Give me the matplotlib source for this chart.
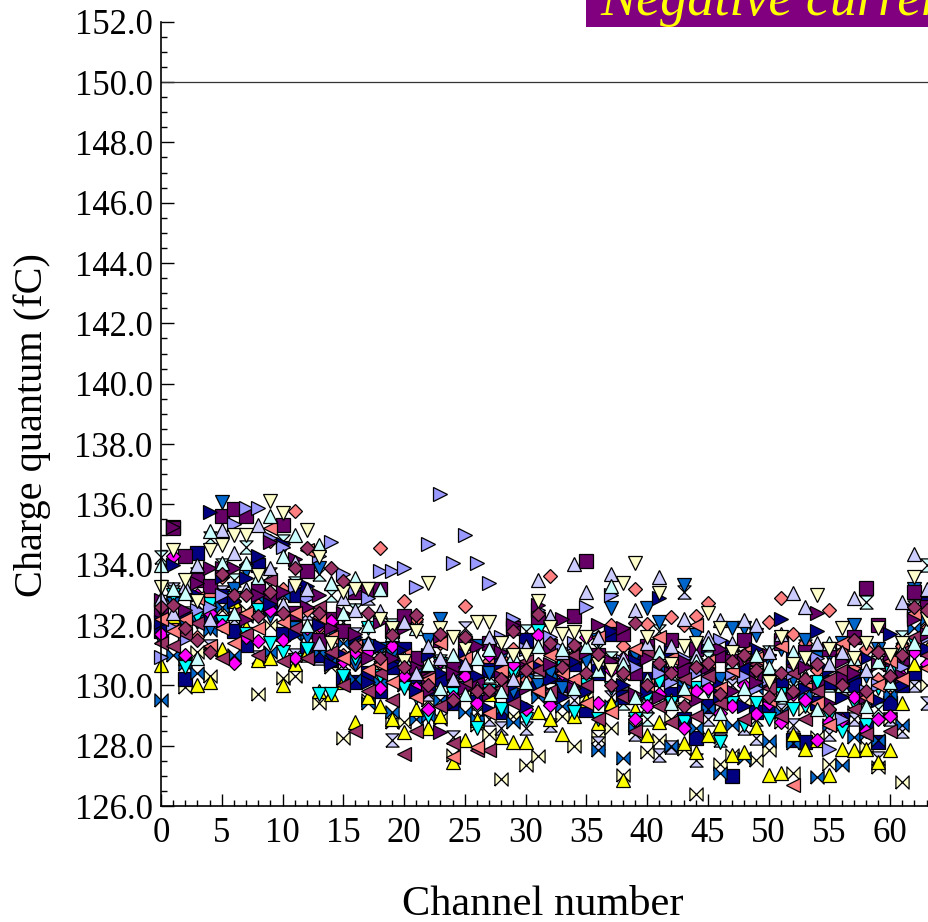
import matplotlib
matplotlib.use('Agg')
from matplotlib import pyplot as plt
from matplotlib.ticker import MultipleLocator, FormatStrFormatter

plt.rcParams['font.family'] = ['Liberation Serif', 'DejaVu Serif']

## values per channel (0..63)
navy_sq = [131.8,135.25,130.2,134.4,132.2,132.95,131.8,131.35,134.0,132.55,131.7,133.0,131.2,131.0,130.85,130.2,
           130.1,130.4,129.8,130.6,131.2,130.3,129.9,130.2,129.4,130.6,129.7,130.5,129.1,129.6,131.5,129.9,
           130.3,130.0,130.7,129.18,130.4,131.7,129.6,130.9,130.2,130.5,129.7,128.9,128.25,129.3,129.6,127.0,
           130.6,129.1,129.35,130.0,128.2,128.13,129.4,130.1,128.9,130.0,128.6,128.11,129.4,130.0,130.4,132.7]
purple_sq = [132.5,135.2,134.3,133.5,133.3,135.6,135.83,135.6,133.2,132.9,135.3,132.4,133.8,131.5,132.2,131.8,
             133.1,133.2,133.2,131.8,132.3,130.9,130.2,131.5,130.6,131.4,130.0,131.4,130.4,131.9,130.6,132.2,
             131.3,130.6,132.3,134.13,131.0,130.7,131.7,130.4,131.3,130.2,131.5,130.5,131.2,130.4,131.0,130.8,
             131.5,130.4,130.1,131.4,130.6,131.1,130.0,131.2,130.2,131.6,133.24,132.0,130.7,130.9,133.1,132.6]
salmon_dia = [132.4,132.1,133.1,131.6,133.0,133.6,132.8,134.0,132.7,134.8,133.2,135.78,132.5,131.9,130.9,131.0,
              130.7,131.4,134.55,131.9,132.8,132.2,131.1,131.4,130.4,132.63,130.1,130.8,130.9,131.2,130.2,130.7,
              133.64,130.5,131.0,131.1,131.6,132.0,131.3,133.2,132.03,131.0,132.25,132.0,132.3,132.72,131.1,130.4,
              130.9,130.0,132.11,132.9,131.7,131.4,130.5,132.5,131.1,130.6,131.2,130.2,129.6,131.3,133.1,131.9]
mauve_dia = [132.6,132.66,131.9,131.5,131.1,133.7,133.0,133.0,132.3,133.1,132.4,133.9,134.55,132.4,133.9,133.45,
             131.3,132.4,130.9,131.67,130.6,132.33,130.0,131.7,129.5,131.6,129.8,129.85,130.2,131.8,130.5,132.37,
             131.4,130.62,131.34,130.4,131.05,130.0,130.4,132.05,130.0,130.73,130.4,129.3,130.6,130.73,129.7,130.8,
             131.0,130.5,129.6,130.4,129.8,130.2,130.7,129.2,130.0,131.5,129.8,131.1,130.3,131.0,132.6,132.5]
magenta_dia = [131.7,134.3,131.0,133.0,132.4,132.0,130.73,131.6,131.47,132.5,131.5,130.9,131.9,132.0,132.14,130.8,
               131.1,131.1,129.9,131.3,130.3,129.9,129.2,130.8,129.6,130.3,129.4,131.0,129.9,130.7,129.2,131.68,
               129.35,130.4,130.1,131.6,129.4,130.5,130.9,128.9,129.3,129.7,130.5,128.6,129.8,129.9,129.07,129.3,
               130.0,129.05,129.4,128.8,129.7,129.5,128.2,128.8,128.85,129.6,128.5,128.9,129.0,130.3,131.1,130.7]
peri_up = [132.9,132.4,133.3,134.0,132.2,135.15,134.4,133.2,135.3,133.9,132.7,134.1,133.2,131.4,133.4,132.9,
           132.5,131.4,132.45,131.9,132.1,130.4,131.3,130.9,130.2,130.7,129.9,131.6,130.9,130.2,131.3,133.5,
           132.3,131.1,134.02,133.1,131.6,133.7,130.9,132.5,131.4,133.6,131.3,132.2,131.0,131.6,132.17,131.4,
           132.17,132.0,131.1,131.7,133.07,132.6,131.4,130.7,131.1,132.9,130.5,131.2,130.5,132.77,134.35,133.2]
palecyan_up = [134.0,133.2,133.05,130.9,135.1,134.05,132.4,134.05,133.6,135.6,134.3,135.0,132.0,134.65,133.4,132.4,
               133.55,132.0,133.2,131.7,130.9,131.9,130.7,129.9,131.0,129.7,130.9,131.2,129.8,131.0,130.1,131.3,
               129.7,131.2,129.9,131.3,130.5,133.3,130.7,129.6,130.2,131.1,129.4,129.9,130.8,131.4,129.07,130.8,
               129.9,131.0,130.6,129.7,131.1,130.3,129.2,131.4,130.0,130.9,129.3,130.8,130.1,131.2,131.4,131.9]
yellow_up = [130.67,132.3,130.9,130.0,130.1,131.2,132.8,131.95,130.84,130.9,130.0,130.7,131.1,129.8,129.7,130.1,
             128.8,129.6,129.3,128.9,128.46,129.2,128.6,129.0,127.47,128.2,128.85,129.7,128.3,128.13,128.13,129.1,
             128.9,128.4,129.0,129.5,128.74,129.4,126.86,129.2,128.35,128.8,129.5,128.1,127.8,128.35,128.7,127.7,
             127.8,128.63,127.03,127.08,128.4,127.9,128.2,127.03,127.9,127.86,127.9,127.47,127.86,129.4,130.7,131.2]
pale_down = [133.27,134.5,133.5,132.8,134.5,134.65,135.0,135.0,133.65,136.1,135.7,133.3,135.15,134.25,131.4,133.1,
             133.2,133.2,132.2,131.9,130.8,131.8,133.38,131.9,131.6,131.2,132.1,132.1,131.4,131.0,131.0,132.8,
             131.95,131.7,131.78,131.6,130.7,130.5,133.38,134.07,131.6,133.05,130.7,131.3,131.4,132.39,131.9,131.1,
             130.9,130.4,130.1,131.6,130.7,130.9,133.0,131.2,131.9,130.9,131.4,131.9,131.0,131.4,133.6,132.2]
blue_down = [131.5,132.7,132.0,132.1,131.9,136.07,133.2,133.8,133.1,132.3,134.55,131.9,131.6,133.9,131.8,131.7,
             130.7,131.3,131.2,131.0,132.1,130.4,131.5,132.2,130.5,129.9,131.3,130.4,130.9,129.8,131.0,130.0,
             130.4,129.9,131.2,130.8,131.5,132.55,131.7,131.0,132.55,132.1,130.8,133.33,131.67,130.6,130.2,131.9,
             131.9,131.67,130.8,131.2,130.2,131.5,130.9,131.0,131.4,132.0,130.3,131.2,130.1,130.6,133.2,132.4]
cyan_down = [132.5,133.0,130.6,132.3,132.7,132.1,132.9,131.7,132.5,131.4,131.1,130.85,131.2,129.7,129.7,130.3,
             130.9,131.9,130.3,131.4,129.9,129.6,129.0,130.7,129.7,130.4,128.6,129.8,129.2,130.4,128.9,131.8,
             129.68,130.6,129.1,130.0,128.9,129.9,130.4,128.9,129.6,130.1,129.4,128.8,129.9,129.8,128.13,129.4,
             128.7,129.4,128.9,129.7,129.2,129.3,130.1,129.0,128.5,129.4,128.7,129.9,130.4,130.9,131.4,131.0]
purple_right = [132.83,135.25,132.5,133.4,133.9,133.9,133.9,132.2,133.0,134.75,133.1,134.2,132.6,133.0,131.9,132.4,
                131.7,130.9,132.1,130.9,131.9,130.6,129.8,128.46,130.4,129.9,131.3,129.7,131.1,132.0,129.9,132.65,
                130.7,132.2,129.9,131.1,132.0,130.8,131.9,129.7,130.9,129.6,130.4,130.8,129.5,130.6,131.2,129.8,
                130.8,130.1,131.0,131.5,129.7,130.6,132.4,129.4,130.8,130.4,129.6,130.7,131.0,130.3,132.2,131.7]
navy_right = [132.1,134.0,132.4,133.0,135.75,133.6,132.8,133.55,134.3,132.7,134.7,131.7,133.3,132.0,130.7,131.0,
              131.6,130.1,131.3,130.7,131.1,129.8,131.0,130.4,129.4,131.0,130.3,129.2,130.7,130.0,129.3,130.6,
              130.2,129.6,130.8,129.8,130.6,131.8,130.0,130.8,129.8,132.9,131.1,129.8,130.4,131.3,130.0,131.3,
              129.3,131.2,130.3,132.19,130.9,129.9,131.8,130.5,129.6,130.3,130.9,129.5,131.7,130.0,132.5,131.2]
peri_right = [130.95,131.9,131.55,132.5,132.6,133.0,135.35,135.87,135.87,134.9,134.6,133.3,132.9,134.3,134.75,133.7,
              133.2,132.9,133.8,133.8,133.9,133.27,134.68,136.35,134.07,135.0,134.07,133.38,131.6,132.2,131.2,132.5,
              131.6,131.2,131.4,132.6,130.9,133.0,130.8,130.6,131.2,130.4,130.1,130.9,130.4,130.2,131.5,130.4,
              130.3,129.9,130.2,129.6,130.4,130.9,130.9,127.9,128.9,130.4,129.8,130.0,130.9,130.6,132.3,131.6]
salmon_left = [132.2,131.8,132.2,132.9,131.3,131.9,131.4,132.4,131.9,135.2,132.1,132.4,134.5,132.28,131.6,130.9,
               131.3,130.5,130.7,130.1,131.0,129.6,130.2,131.4,127.63,130.9,127.97,129.07,130.5,130.1,130.6,129.8,
               131.0,130.4,130.2,129.4,131.6,129.1,130.4,131.2,130.0,131.6,130.9,129.7,132.0,130.8,129.9,130.5,
               131.1,130.9,129.5,131.3,126.7,130.1,129.4,128.7,131.4,130.8,129.6,130.0,130.8,130.2,132.4,130.56]
mauve_left = [131.4,131.3,131.7,132.05,131.2,130.9,132.4,131.7,131.0,133.5,130.8,131.9,130.9,132.6,131.1,130.0,
              128.5,129.8,130.4,129.5,127.72,128.5,130.3,129.3,128.1,130.0,127.85,127.85,129.9,129.4,130.8,130.5,
              129.8,130.9,131.0,130.0,128.9,130.7,129.6,128.5,131.1,129.3,128.8,130.2,129.0,130.3,129.4,130.5,
              128.9,130.7,129.9,129.0,130.4,128.9,129.8,130.2,130.5,129.2,128.4,130.7,128.5,131.1,131.6,131.0]
pale_bow = [132.1,131.9,129.95,131.1,130.3,132.5,131.8,132.5,129.7,132.0,130.25,130.3,131.1,129.4,130.6,128.24,
            130.1,129.5,130.5,128.8,128.8,130.2,129.5,128.9,127.7,129.7,128.7,128.4,126.88,129.0,127.36,127.66,
            129.8,129.0,128.0,129.6,128.3,128.6,127.03,128.7,127.8,128.2,128.9,127.9,126.39,128.3,127.4,127.7,
            129.4,127.52,127.86,128.8,127.1,129.2,128.3,127.4,128.7,129.1,128.0,127.3,128.9,126.8,130.3,130.0]
blue_bow = [129.5,131.0,130.7,130.4,131.85,132.6,131.0,132.3,132.9,131.1,133.0,131.67,131.7,131.1,130.8,131.4,
            130.2,129.4,130.1,129.1,130.0,128.9,129.0,129.5,130.4,129.1,128.9,129.7,129.2,128.8,130.4,129.6,
            130.3,129.3,130.0,130.9,127.86,129.3,127.6,128.6,129.7,130.6,128.0,130.0,128.6,129.2,127.08,128.7,
            127.58,129.9,128.17,129.1,128.1,129.7,126.97,128.7,127.36,128.3,128.4,128.2,129.7,128.7,131.9,132.2]
peri_hour = [131.6,133.2,130.2,132.7,131.3,133.1,132.2,131.6,130.95,133.7,132.8,131.0,132.4,130.9,132.0,130.7,
             131.7,132.9,130.9,128.2,131.0,130.6,129.7,130.2,128.3,131.9,129.4,128.9,128.6,130.5,128.57,130.2,
             128.7,129.9,129.5,131.0,128.1,129.6,130.1,128.4,129.3,127.7,127.97,133.1,127.52,128.9,128.2,130.0,
             128.6,128.24,130.3,129.2,128.7,130.8,129.8,128.4,129.9,128.9,129.5,127.6,128.9,128.5,130.0,129.4]
palecyan_hour = [134.26,133.1,132.4,133.7,134.9,134.0,133.5,134.6,132.6,133.3,134.8,133.4,131.0,133.7,133.0,132.1,
                 132.5,132.2,131.0,132.0,130.4,131.9,130.2,130.8,130.0,130.6,129.1,130.3,131.0,130.2,131.8,130.1,
                 131.2,130.0,130.8,129.6,131.2,130.9,129.4,130.6,128.9,131.8,130.4,129.2,131.1,130.9,129.6,130.7,
                 130.2,128.9,131.1,129.6,129.9,131.3,130.3,130.0,131.0,130.2,132.77,129.2,129.7,131.6,132.6,134.0]

x_ticks = [0, 5, 10, 15, 20, 25, 30, 35, 40, 45, 50, 55, 60]
title_text = 'Negative current'
ref_level = 150.0

bow = [(-1, -1), (1, 1), (1, -1), (-1, 1), (-1, -1)]
hour = [(-1, -1), (1, -1), (-1, 1), (1, 1), (-1, -1)]

## draw order, bottom first
series = [
    (pale_bow, bow, '#ffffcc', 9.5),
    (peri_hour, hour, '#ccccff', 9.5),
    (palecyan_hour, hour, '#ccffff', 9.5),
    (salmon_dia, 'D', '#ff8080', 7.2),
    (navy_sq, 's', '#000080', 10),
    (blue_bow, bow, '#0066cc', 9.5),
    (yellow_up, '^', '#ffff00', 10),
    (blue_down, 'v', '#0066cc', 10),
    (purple_sq, 's', '#660066', 10),
    (cyan_down, 'v', '#00ffff', 10),
    (magenta_dia, 'D', '#ff00ff', 7.2),
    (navy_right, '>', '#000080', 10),
    (peri_right, '>', '#9999ff', 10),
    (mauve_left, '<', '#993366', 10),
    (purple_right, '>', '#660066', 10),
    (salmon_left, '<', '#ff8080', 10),
    (peri_up, '^', '#ccccff', 10),
    (palecyan_up, '^', '#ccffff', 10),
    (pale_down, 'v', '#ffffcc', 10),
    (mauve_dia, 'D', '#993366', 7.2),
]

fig = plt.figure(figsize=(9.29, 9.22), dpi=100)
ax = fig.add_axes([161/929, 1 - 806/922, (929-161)/929, (806-21.7)/922])

for vals, mark, col, size in series:
    ax.plot(range(len(vals)), vals, ls='none', marker=mark, ms=size, mfc=col, mec='black', mew=0.9, clip_on=False)

ax.axhline(ref_level, color='#333333', lw=0.9, xmax=0.997)

ax.set_xlim(0, 63.2)
ax.set_ylim(126, 152)
ax.spines['top'].set_visible(False)
ax.spines['right'].set_visible(False)
ax.spines['left'].set_linewidth(1.2)
ax.spines['bottom'].set_linewidth(1.2)

ax.set_xticks(x_ticks)
ax.xaxis.set_minor_locator(MultipleLocator(1))
ax.yaxis.set_major_locator(MultipleLocator(2))
ax.yaxis.set_minor_locator(MultipleLocator(0.5))
ax.yaxis.set_major_formatter(FormatStrFormatter('%.1f'))
ax.tick_params(which='major', direction='in', length=9, width=1.0, labelsize=25)
ax.tick_params(which='minor', direction='in', length=4.5, width=1.0)
ax.tick_params(axis='x', which='major', pad=8)
ax.tick_params(axis='y', which='major', pad=6)

fig.text(543/929, 1 - 905/922, 'Channel number', fontsize=30.5, ha='center', va='center')
fig.text(32/929, 1 - 425/922, 'Charge quantum (fC)', fontsize=29, rotation=90, ha='center', va='center')

## title box runs off the top right corner of the page
fig.patches.append(plt.Rectangle((586/929, 1 - 27/922), 343/929, 27/922, transform=fig.transFigure, fc='#800080', ec='none', zorder=4))
fig.text(600/929, 1 - 15/922, title_text, fontsize=39, style='italic', color='#ffff00', ha='left', va='baseline', zorder=5)

fig.savefig('out.png', dpi=100)
